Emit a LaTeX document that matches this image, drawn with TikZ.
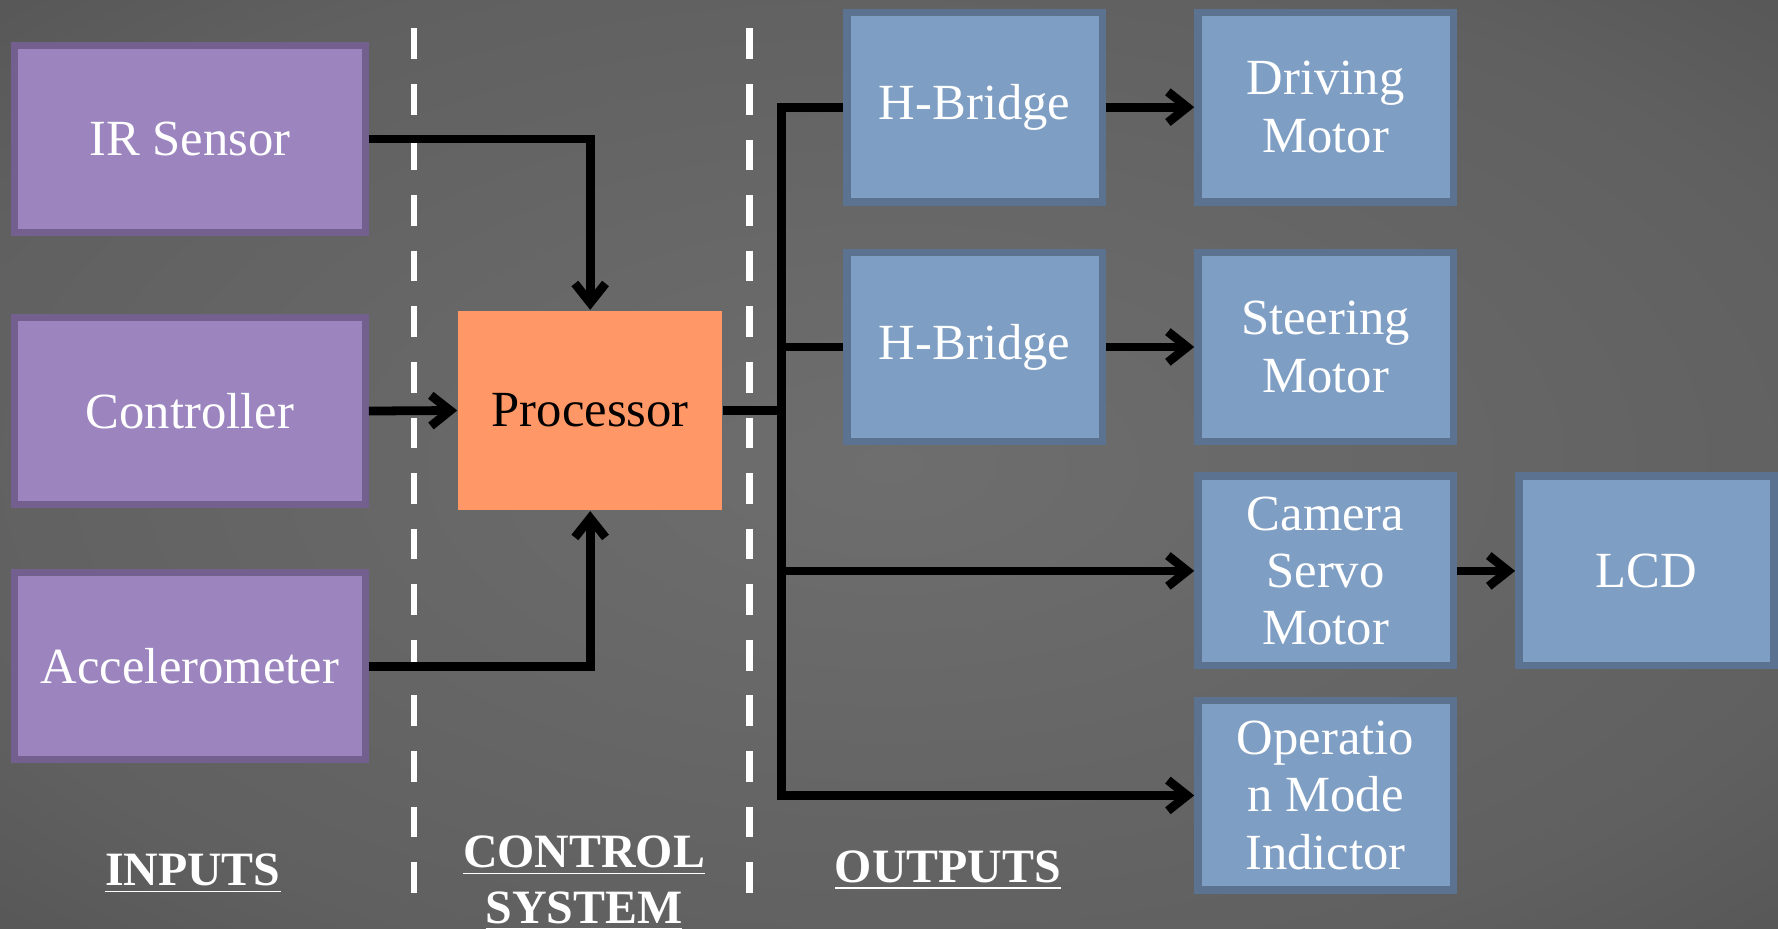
\documentclass[tikz,border=0pt]{standalone}
\usepackage{fontspec}
\setmainfont{Liberation Serif}
\usetikzlibrary{arrows.meta}
\definecolor{bgin}{RGB}{110,110,110}
\definecolor{bgmid}{RGB}{96,96,96}
\definecolor{bgout}{RGB}{46,46,46}
\definecolor{infill}{RGB}{156,133,191}
\definecolor{inedge}{RGB}{115,96,143}
\definecolor{outfill}{RGB}{127,158,196}
\definecolor{outedge}{RGB}{91,115,145}
\definecolor{procfill}{RGB}{255,152,102}
\pgfdeclareradialshading{vignette}{\pgfpoint{0bp}{0bp}}{color(0bp)=(bgin); color(28bp)=(bgmid); color(71bp)=(bgout)}
\newcommand\boxfont{\fontsize{12.7pt}{14.4pt}\selectfont}
\newcommand\headfont{\bfseries\fontsize{12pt}{14pt}\selectfont}
\tikzset{>={Straight Barb[length=1.7mm,width=2.7mm]}}
\tikzset{
  inbox/.style={draw=inedge, fill=infill, line width=0.65mm, minimum width=3.09cm, minimum height=1.65cm, text=white, font=\boxfont, align=center},
  outbox/.style={draw=outedge, fill=outfill, line width=0.65mm, minimum width=2.25cm, minimum height=1.67cm, text=white, font=\boxfont, align=center},
  procbox/.style={fill=procfill, minimum width=2.33cm, minimum height=1.76cm, font=\boxfont},
  wire/.style={line width=2.2pt},
  sep/.style={white, line width=1.6pt, dash pattern=on 0.27cm off 0.22cm},
  head/.style={white, font=\headfont, anchor=base}
}

\begin{document}
\begin{tikzpicture}[x=0.01cm, y=-0.01cm]
\shade[shading=vignette] (0,0) rectangle (1568,819);
\useasboundingbox (0,0) rectangle (1568,819);

\draw[sep](365,25)--(365,795);
\draw[sep](661,25)--(661,795);

\node[inbox] (irsensor) at (167.5,122.5) {IR Sensor};
\node[inbox] (controller) at (167.5,362.5) {Controller};
\node[inbox] (accel) at (167.5,587.5) {Accelerometer};
\node[procbox] (proc) at (520.5,362) {Processor};
\node[outbox] (hbridgeA) at (859.5,94.5) {H-Bridge};
\node[outbox] (hbridgeB) at (859.5,306) {H-Bridge};
\node[outbox] (drive) at (1169,94.5) {Driving\\Motor};
\node[outbox] (steer) at (1169,306) {Steering\\Motor};
\node[outbox] (camera) at (1169,503.5) {Camera\\Servo\\Motor};
\node[outbox] (lcd) at (1452,503.5) {LCD};
\node[outbox] (opmode) at (1169,701.5) {Operatio\\n Mode\\Indictor};
\coordinate (bus) at (689,362);

\draw[wire,->](irsensor.east)-|(proc.north);
\draw[wire,->](controller.east)--(proc.west);
\draw[wire,->](accel.east)-|(proc.south);
\draw[wire](proc.east)--(bus);
\draw[wire,->](hbridgeA.west)-|(opmode.west -| bus)--(opmode.west);
\draw[wire](hbridgeB.west -| bus)--(hbridgeB.west);
\draw[wire,->](camera.west -| bus)--(camera.west);
\draw[wire,->](hbridgeA.east)--(drive.west);
\draw[wire,->](hbridgeB.east)--(steer.west);
\draw[wire,->](camera.east)--(lcd.west);

\node[head] (inhead) at (170,781) {\underline{INPUTS}};
\node[head] (ctlhead) at (515,765) {\underline{CONTROL}};
\node[head] (syshead) at (515,814) {\underline{SYSTEM}};
\node[head] (outhead) at (836,778) {\underline{OUTPUTS}};
\end{tikzpicture}
\end{document}
